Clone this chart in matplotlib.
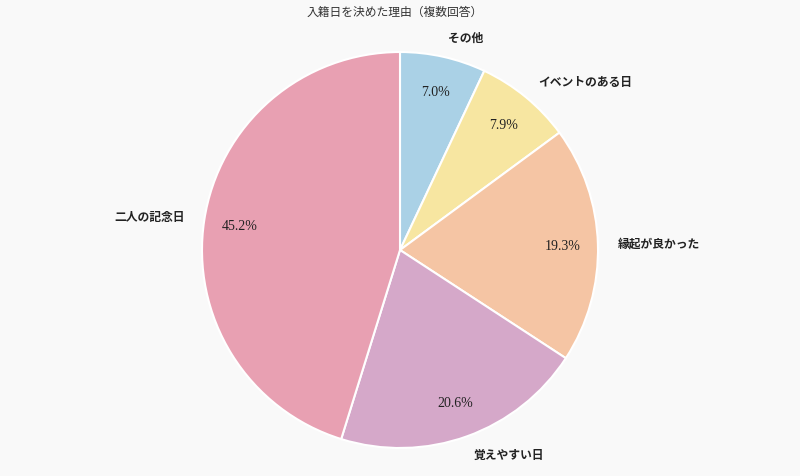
import matplotlib
matplotlib.use('Agg')
import matplotlib.pyplot as plt

# data
labels = ['その他', 'イベントのある日', '縁起が良かった', '覚えやすい日', '二人の記念日']
values = [7.0, 7.9, 19.3, 20.6, 45.2]
colors = ['#aad1e6', '#f7e6a1', '#f5c5a4', '#d5a8c9', '#e8a0b2']
title = '入籍日を決めた理由（複数回答）'

plt.rcParams['font.family'] = ['Liberation Serif', 'Noto Sans CJK JP', 'DejaVu Sans']

fig = plt.figure(figsize=(8, 4.77), dpi=100)
fig.patch.set_facecolor('#f9f9f9')

# pie centre ~(400,250) px, radius ~198 px
ax = fig.add_axes([202/800, 28/477, 396/800, 396/477])
ax.set_facecolor('#f9f9f9')

wedges, texts, autotexts = ax.pie(
    values, labels=labels, colors=colors, startangle=90, counterclock=False,
    autopct='%.1f%%', pctdistance=0.82, labeldistance=1.1,
    wedgeprops={'edgecolor': 'white', 'linewidth': 1.5},
    textprops={'fontsize': 8.5, 'fontweight': 'bold', 'color': '#222222'})
for t in autotexts:
    t.set_fontsize(10)
    t.set_fontweight('normal')
ax.set_xlim(-1, 1)
ax.set_ylim(-1, 1)
ax.set_aspect('equal')
ax.axis('off')

fig.text(395/800, 1 - 13/477, title, ha='center', va='center',
         fontsize=8.5, color='#333333')

fig.savefig('out.png', dpi=100, facecolor=fig.get_facecolor())
